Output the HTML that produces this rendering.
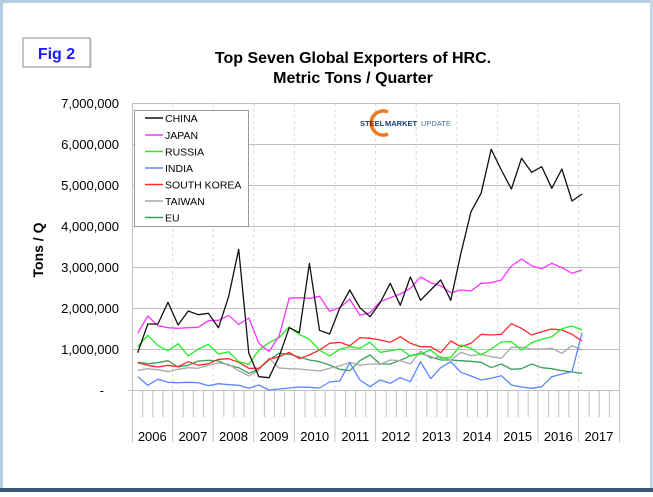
<!DOCTYPE html>
<html><head><meta charset="utf-8"><style>
html,body{margin:0;padding:0;background:#fff;}
body{width:653px;height:492px;overflow:hidden;position:relative;font-family:"Liberation Sans",sans-serif;}
</style></head><body>
<svg width="653" height="492" viewBox="0 0 653 492" xmlns="http://www.w3.org/2000/svg" font-family="Liberation Sans, sans-serif">
<rect x="0" y="0" width="653" height="492" fill="#fff"/>
<rect x="0" y="0" width="653" height="3" fill="#b8cce0"/>
<rect x="0" y="0" width="3" height="492" fill="#b8cce0"/>
<rect x="650" y="0" width="3" height="492" fill="#c8d8e8"/>
<rect x="0" y="488" width="653" height="4" fill="#3b5677"/>
<!-- Fig 2 box -->
<rect x="23" y="38" width="67" height="29" fill="#fff" stroke="#888" stroke-width="1"/>
<rect x="90" y="39" width="1.5" height="29" fill="#bbb"/>
<text x="56.5" y="59" text-anchor="middle" font-size="16" font-weight="bold" fill="#1a1aff">Fig 2</text>
<!-- title -->
<text x="353" y="63" text-anchor="middle" font-size="16" font-weight="bold" fill="#000">Top Seven Global Exporters of HRC.</text>
<text x="353" y="83" text-anchor="middle" font-size="16" font-weight="bold" fill="#000">Metric Tons / Quarter</text>
<!-- grid -->
<g stroke="#c0c0c0" stroke-width="1">
<line x1="132" y1="103.5" x2="619" y2="103.5"/>
<line x1="132" y1="144.5" x2="619" y2="144.5"/>
<line x1="132" y1="185.5" x2="619" y2="185.5"/>
<line x1="132" y1="226.5" x2="619" y2="226.5"/>
<line x1="132" y1="267.5" x2="619" y2="267.5"/>
<line x1="132" y1="308.5" x2="619" y2="308.5"/>
<line x1="132" y1="349.5" x2="619" y2="349.5"/>
</g>
<g stroke="#d8d8d8" stroke-width="1" stroke-dasharray="3,3">
<line x1="172.6" y1="103" x2="172.6" y2="390"/><line x1="213.2" y1="103" x2="213.2" y2="390"/>
<line x1="253.8" y1="103" x2="253.8" y2="390"/><line x1="294.4" y1="103" x2="294.4" y2="390"/>
<line x1="335" y1="103" x2="335" y2="390"/><line x1="375.6" y1="103" x2="375.6" y2="390"/>
<line x1="416.2" y1="103" x2="416.2" y2="390"/><line x1="456.8" y1="103" x2="456.8" y2="390"/>
<line x1="497.4" y1="103" x2="497.4" y2="390"/><line x1="538" y1="103" x2="538" y2="390"/>
<line x1="578.6" y1="103" x2="578.6" y2="390"/>
</g>
<line x1="619.5" y1="103" x2="619.5" y2="390" stroke="#c0c0c0"/>
<line x1="132.5" y1="103" x2="132.5" y2="442" stroke="#c0c0c0"/>
<line x1="128" y1="390.5" x2="619" y2="390.5" stroke="#c0c0c0"/>
<!-- x ticks -->
<g id="ticks" stroke="#c0c0c0" stroke-width="1"></g>
<g font-size="13" fill="#000" text-anchor="end">
<text x="119" y="108">7,000,000</text>
<text x="119" y="149">6,000,000</text>
<text x="119" y="190">5,000,000</text>
<text x="119" y="231">4,000,000</text>
<text x="119" y="272">3,000,000</text>
<text x="119" y="313">2,000,000</text>
<text x="119" y="354">1,000,000</text>
<text x="104" y="395">-</text>
</g>
<text transform="translate(43,250) rotate(-90)" text-anchor="middle" font-size="14" font-weight="bold">Tons / Q</text>
<g font-size="13" text-anchor="middle" fill="#000">
<text x="152.3" y="441">2006</text><text x="192.9" y="441">2007</text><text x="233.5" y="441">2008</text>
<text x="274.1" y="441">2009</text><text x="314.7" y="441">2010</text><text x="355.3" y="441">2011</text>
<text x="395.9" y="441">2012</text><text x="436.5" y="441">2013</text><text x="477.1" y="441">2014</text>
<text x="517.7" y="441">2015</text><text x="558.3" y="441">2016</text><text x="598.9" y="441">2017</text>
</g>
<!-- logo -->
<path d="M388 112 A12 12 0 1 0 388 134" fill="none" stroke="#f07a20" stroke-width="3.5"/>
<text x="360" y="126" font-size="7.5" font-weight="bold" fill="#1d3f7a">STEEL</text>
<text x="385" y="126" font-size="7.5" font-weight="bold" fill="#1d3f7a">MARKET</text>
<text x="421" y="126" font-size="7.5" fill="#4a6fa5">UPDATE</text>
<!-- series -->
<g fill="none" stroke-width="1.3" stroke-linejoin="round" transform="translate(137.7,0) scale(10.1,1)">
<polyline vector-effect="non-scaling-stroke" stroke="#3c9e5a" points="0,362.3 1,363.7 2,362.7 3,360.7 4,367 5,365.3 6,361 7,360.3 8,361 9,365.3 10,367.7 11,373.3 12,369.3 13,360 14,353.3 15,354.3 16,357 17,360 18,361.7 19,365 20,369.3 21,370.7 22,360.7 23,355 24,364 25,364 26,360.3 27,355.7 28,353.3 29,356.7 30,360 31,360 32,360.7 33,361.3 34,362.3 35,367.7 36,364 37,369.3 38,368.7 39,364 40,367.7 41,368.7 42,370.7 43,372 44,373.3"/>
<polyline vector-effect="non-scaling-stroke" stroke="#aaaaaa" points="0,370.3 1,368.7 2,369.7 3,371.7 4,369.3 5,367.7 6,368.3 7,365.3 8,363 9,364.3 10,370.7 11,376 12,370 13,358.3 14,368 15,368.7 16,369 17,370 18,371 19,368.3 20,366 21,362.3 22,365.3 23,364 24,364.3 25,360 26,360.7 27,364 28,351 29,358.3 30,356.7 31,360 32,352.3 33,355.7 34,354.3 35,356.7 36,358.3 37,347.3 38,347.3 39,349 40,349 41,348.3 42,353.3 43,345.7 44,350"/>
<polyline vector-effect="non-scaling-stroke" stroke="#5a86ff" points="0,376.7 1,385.3 2,379.3 3,382.3 4,382.7 5,382.3 6,382.7 7,385.7 8,383.7 9,384.7 10,385.3 11,388.3 12,385 13,390 14,389 15,388 16,387 17,387.3 18,388 19,382 20,381 21,362.7 22,380 23,386.7 24,380 25,383.3 26,377.7 27,381.7 28,361.7 29,378.7 30,367.7 31,361.7 32,372.3 33,376 34,380 35,378.3 36,375.7 37,385 38,387 39,388.3 40,386.7 41,376.7 42,374 43,371.7 44,332.7"/>
<polyline vector-effect="non-scaling-stroke" stroke="#ff2a2a" points="0,362.7 1,365.3 2,367 3,365.3 4,366.7 5,361.7 6,365.3 7,363.7 8,359.3 9,358.7 10,362.3 11,368.3 12,368.3 13,359.3 14,356.7 15,352.3 16,358.7 17,355 18,350 19,343.3 20,342.3 21,345.7 22,337.7 23,338.3 24,340 25,342.3 26,336.7 27,343.3 28,346.7 29,346.7 30,352.7 31,341 32,346.7 33,343.3 34,334.3 35,335 36,334.3 37,323.7 38,328.3 39,335 40,331.7 41,329 42,330 43,334.3 44,341"/>
<polyline vector-effect="non-scaling-stroke" stroke="#22ee22" points="0,346.7 1,335.3 2,345.7 3,350.7 4,343.7 5,356 6,349 7,344.3 8,354 9,351.7 10,361.7 11,364.3 12,350 13,342.7 14,337.7 15,327 16,334.3 17,339.3 18,350 19,356 20,349.3 21,346.7 22,348.3 23,342.3 24,352.3 25,350.7 26,349 27,356 28,354 29,350 30,358.3 31,357.3 32,345 33,348.3 34,355 35,349 36,342 37,341.7 38,350 39,342.7 40,339.3 41,336.7 42,328.7 43,326 44,330"/>
<polyline vector-effect="non-scaling-stroke" stroke="#ff33ff" points="0,333.3 1,316 2,325.7 3,327.7 4,328.3 5,327.7 6,327.3 7,320.7 8,320.3 9,315.3 10,324.3 11,318 12,343.3 13,351.7 14,336 15,298.3 16,297.7 17,298.3 18,296.3 19,311.3 20,307.7 21,299.3 22,315.3 23,312.7 24,301.7 25,297.7 26,294 27,288.3 28,277 29,282.7 30,285.7 31,292.7 32,290 33,291 34,283.3 35,282.7 36,280 37,266 38,259 39,265.7 40,268.7 41,263.3 42,267.7 43,273.3 44,270"/>
<polyline vector-effect="non-scaling-stroke" stroke="#111" points="0,352.7 1,324 2,324 3,302.3 4,325 5,311 6,314.7 7,313.3 8,327.7 9,296.7 10,249.3 11,353.3 12,376.7 13,377.7 14,356.7 15,327.7 16,332.7 17,263.3 18,330.3 19,334 20,308.3 21,290 22,307.7 23,316.7 24,302.7 25,283.3 26,305.3 27,277 28,300.3 29,290 30,280 31,300.3 32,253.3 33,211.7 34,193.3 35,149.3 36,170 37,189 38,158.3 39,172.3 40,166.7 41,188.3 42,169 43,201 44,194"/>
</g>
<!-- legend -->
<rect x="134.5" y="110.5" width="114" height="116" fill="#fff" stroke="#999"/>
<g stroke-width="1.5">
<line x1="145" y1="118" x2="163" y2="118" stroke="#111"/>
<line x1="145" y1="135" x2="163" y2="135" stroke="#ff33ff"/>
<line x1="145" y1="151.5" x2="163" y2="151.5" stroke="#22ee22"/>
<line x1="145" y1="168" x2="163" y2="168" stroke="#5a86ff"/>
<line x1="145" y1="184.5" x2="163" y2="184.5" stroke="#ff2a2a"/>
<line x1="145" y1="201" x2="163" y2="201" stroke="#aaaaaa"/>
<line x1="145" y1="217.5" x2="163" y2="217.5" stroke="#3c9e5a"/>
</g>
<g font-size="10.5" fill="#000">
<text x="165" y="122">CHINA</text>
<text x="165" y="139">JAPAN</text>
<text x="165" y="155.5">RUSSIA</text>
<text x="165" y="172">INDIA</text>
<text x="165" y="188.5">SOUTH KOREA</text>
<text x="165" y="205">TAIWAN</text>
<text x="165" y="221.5">EU</text>
</g>
<g stroke="#c0c0c0" stroke-width="1">
<path d="M142.7 390V417M152.8 390V417M162.9 390V417M183.2 390V417M193.3 390V417M203.4 390V417M223.8 390V417M233.9 390V417M244 390V417M264.4 390V417M274.5 390V417M284.6 390V417M305 390V417M315.1 390V417M325.2 390V417M345.6 390V417M355.7 390V417M365.8 390V417M386.2 390V417M396.3 390V417M406.4 390V417M426.8 390V417M436.9 390V417M447 390V417M467.4 390V417M477.5 390V417M487.6 390V417M508 390V417M518.1 390V417M528.2 390V417M548.6 390V417M558.7 390V417M568.8 390V417M589.2 390V417M599.3 390V417M609.4 390V417"/>
<path d="M172.6 390V442M213.2 390V442M253.8 390V442M294.4 390V442M335 390V442M375.6 390V442M416.2 390V442M456.8 390V442M497.4 390V442M538 390V442M578.6 390V442M619.5 390V442"/>
</g>
</svg>
</body></html>
